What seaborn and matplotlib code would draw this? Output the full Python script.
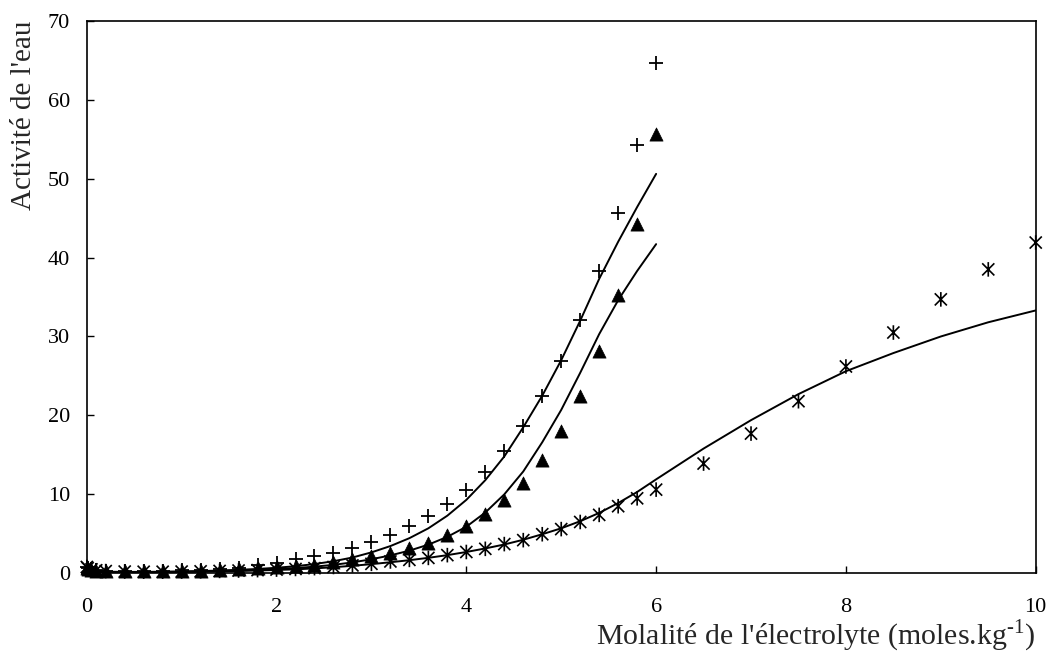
import numpy as np
import pandas as pd
import matplotlib
matplotlib.use("Agg")
import matplotlib.pyplot as plt
from matplotlib.path import Path
import seaborn as sns

# Molalities of the measured points (0 to 6 for all salts, up to 10 for the third one)
m_low = [0.001, 0.01, 0.05, 0.1, 0.2, 0.4, 0.6, 0.8, 1.0, 1.2, 1.4, 1.6, 1.8, 2.0,
         2.2, 2.4, 2.6, 2.8, 3.0, 3.2, 3.4, 3.6, 3.8, 4.0, 4.2, 4.4, 4.6, 4.8,
         5.0, 5.2, 5.4, 5.6, 5.8, 6.0]
m_high = [6.5, 7.0, 7.5, 8.0, 8.5, 9.0, 9.5, 10.0]

# Experimental values
exp_plus = [0.8, 0.7, 0.55, 0.45, 0.35, 0.3, 0.3, 0.33, 0.38, 0.45, 0.55, 0.7, 1.0, 1.35,
            1.75, 2.15, 2.6, 3.2, 3.95, 4.85, 5.95, 7.25, 8.8, 10.6, 12.85, 15.5, 18.65, 22.5,
            26.9, 32.1, 38.3, 45.6, 54.3, 64.6]
exp_tri = [0.7, 0.6, 0.45, 0.35, 0.28, 0.25, 0.25, 0.27, 0.3, 0.35, 0.42, 0.5, 0.62, 0.75,
           0.9, 1.1, 1.4, 1.8, 2.2, 2.6, 3.2, 3.9, 4.9, 6.0, 7.5, 9.3, 11.5, 14.4,
           18.0, 22.4, 28.1, 35.2, 44.3, 55.7]
exp_star = [0.8, 0.65, 0.5, 0.38, 0.28, 0.22, 0.2, 0.2, 0.22, 0.25, 0.3, 0.35, 0.4, 0.47,
            0.55, 0.65, 0.8, 1.0, 1.2, 1.5, 1.7, 1.95, 2.3, 2.7, 3.1, 3.7, 4.2, 4.95,
            5.6, 6.5, 7.4, 8.5, 9.5, 10.6,
            13.9, 17.7, 21.8, 26.2, 30.5, 34.7, 38.5, 41.9]

# Model curves
m_fit = [0.001, 0.1, 0.2, 0.4, 0.6, 0.8, 1.0, 1.2, 1.4, 1.6, 1.8, 2.0, 2.2, 2.4, 2.6,
         2.8, 3.0, 3.2, 3.4, 3.6, 3.8, 4.0, 4.2, 4.4, 4.6, 4.8, 5.0, 5.2, 5.4, 5.6,
         5.8, 6.0]
fit_plus = [0.4, 0.25, 0.2, 0.18, 0.18, 0.2, 0.23, 0.28, 0.35, 0.44, 0.55, 0.7, 0.9, 1.17,
            1.53, 2.0, 2.65, 3.45, 4.45, 5.7, 7.3, 9.3, 11.8, 14.8, 18.5, 22.5, 27.0, 32.0,
            37.3, 42.0, 46.4, 50.6]
fit_tri = [0.35, 0.22, 0.18, 0.16, 0.16, 0.17, 0.2, 0.24, 0.29, 0.36, 0.44, 0.54, 0.67,
           0.84, 1.07, 1.38, 1.78, 2.27, 2.87, 3.63, 4.62, 5.9, 7.7, 10.0, 12.9, 16.6,
           20.7, 25.4, 30.3, 34.6, 38.3, 41.7]
fit_star = [0.3, 0.2, 0.16, 0.14, 0.14, 0.15, 0.17, 0.2, 0.24, 0.29, 0.35, 0.42, 0.5,
            0.62, 0.77, 0.95, 1.16, 1.4, 1.66, 1.96, 2.3, 2.7, 3.15, 3.65, 4.25, 4.95,
            5.7, 6.6, 7.65, 8.9, 10.3, 11.9,
            15.8, 19.4, 22.7, 25.6, 27.9, 30.0, 31.8, 33.3]

x_ticks = [0, 2, 4, 6, 8, 10]
y_ticks = [0, 10, 20, 30, 40, 50, 60, 70]

sns.set_theme(style="white")
plt.rcParams["font.family"] = ["Liberation Serif", "DejaVu Serif"]
plt.rcParams["mathtext.fontset"] = "custom"
plt.rcParams["mathtext.rm"] = "Liberation Serif"

# Asterisk marker: an X crossed by a vertical bar
star_path = Path(
    [(-0.5, -0.5), (0.5, 0.5), (-0.5, 0.5), (0.5, -0.5), (0.0, -0.6), (0.0, 0.6)],
    [Path.MOVETO, Path.LINETO, Path.MOVETO, Path.LINETO, Path.MOVETO, Path.LINETO],
)

fig = plt.figure(figsize=(10.5, 6.54), dpi=100)
ax = fig.add_axes([0.0826, 0.1234, 0.9038, 0.8449])

line_kw = dict(color="black", linewidth=1.4, sort=False, estimator=None, legend=False)
sns.lineplot(x=m_fit, y=fit_plus, ax=ax, **line_kw)
sns.lineplot(x=m_fit, y=fit_tri, ax=ax, **line_kw)
sns.lineplot(x=m_fit + m_high, y=fit_star, ax=ax, **line_kw)

sns.scatterplot(x=m_low, y=exp_plus, ax=ax, marker="+", s=110, color="black",
                linewidth=1.3, legend=False, clip_on=False, zorder=3)
sns.scatterplot(x=m_low, y=exp_tri, ax=ax, marker="^", s=90, color="black",
                edgecolor="black", linewidth=0.5, legend=False, clip_on=False, zorder=3)
sns.scatterplot(x=m_low + m_high, y=exp_star, ax=ax, marker=star_path, s=110,
                facecolor="none", edgecolor="black", linewidth=1.2, legend=False,
                clip_on=False, zorder=3)

ax.set_xlim(0, 10)
ax.set_ylim(0, 70)
ax.set_xticks(x_ticks)
ax.set_yticks(y_ticks)
ax.set_xticklabels([str(t) for t in x_ticks])
ax.set_yticklabels([str(t) for t in y_ticks])
ax.tick_params(axis="both", direction="in", length=5, width=1, colors="black",
               labelsize=16)
ax.tick_params(axis="x", pad=18)
ax.tick_params(axis="y", pad=12)
ax.tick_params(bottom=True, left=True, top=False, right=False)

for sp in ax.spines.values():
    sp.set_visible(True)
    sp.set_color("black")
    sp.set_linewidth(1.2)

ax.set_xlabel("Molalité de l'électrolyte (moles.kg$^{\\mathregular{\u20101}}$)",
              fontsize=21.5, loc="right", labelpad=0)
ax.set_ylabel("Activité de l'eau", fontsize=21, loc="top", labelpad=8)
ax.grid(False)

fig.savefig("out.png", dpi=100, facecolor="white")
